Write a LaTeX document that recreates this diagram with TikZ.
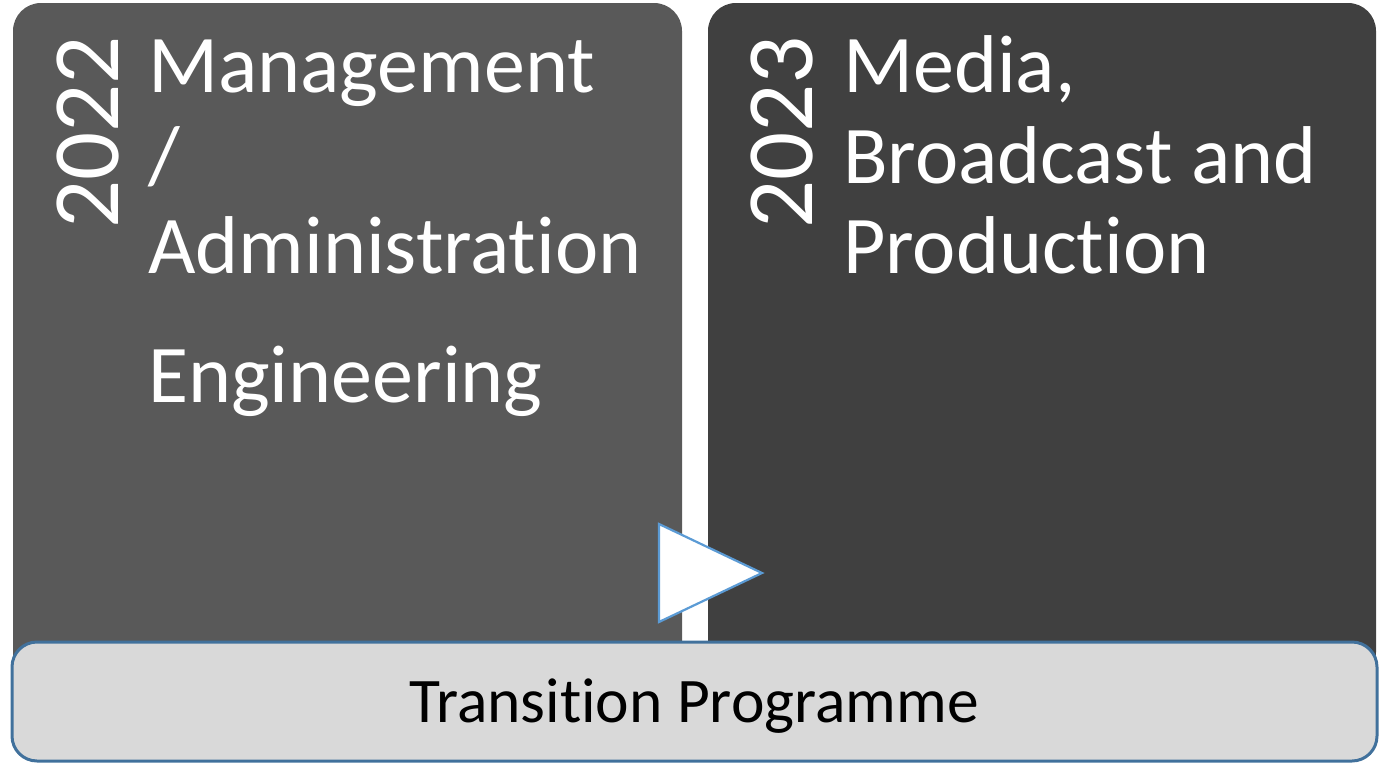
\documentclass[tikz,border=0pt]{standalone}
\usepackage{fontspec}
\setmainfont{Carlito}[Ligatures=NoCommon,RawFeature=-liga]
\definecolor{leftgray}{HTML}{595959}
\definecolor{rightgray}{HTML}{404040}
\definecolor{barfill}{HTML}{D9D9D9}
\definecolor{barline}{HTML}{41719C}
\definecolor{triline}{HTML}{5B9BD5}
\tikzset{
  panel/.style={rounded corners=28pt, inner sep=0pt, draw=none},
  bigtext/.style={text=white, inner sep=0pt, anchor=base west, font=\fontsize{82}{90}\selectfont},
  yeartext/.style={text=white, inner sep=0pt, anchor=base west, rotate=90, font=\fontsize{95}{100}\selectfont},
  bartext/.style={text=black, inner sep=0pt, anchor=base, font=\fontsize{63.5}{70}\selectfont}
}
\begin{document}
\begin{tikzpicture}[x=1pt,y=-1pt]
\useasboundingbox (0,0) rectangle (1385,763);
% panels
\node[panel, fill=leftgray, minimum width=669pt, minimum height=677pt] (leftbox) at (347.5,341.5) {};
\node[panel, fill=rightgray, minimum width=668pt, minimum height=677pt] (rightbox) at (1042,341.5) {};
% left texts
\node[yeartext] (y22) at (118,229) {2022};
\node[bigtext] (l1) at (148,92) {Management};
\node[bigtext] (l2) at (148,183) {/};
\node[bigtext] (l3) at (148,273) {Administration};
\node[bigtext] (l4) at (148,402) {Engineering};
% right texts
\node[yeartext] (y23) at (812,229) {2023};
\node[bigtext] (r1) at (843,92) {Media,};
\node[bigtext] (r2) at (843,183) {Broadcast and};
\node[bigtext] (r3) at (843,273) {Production};
% arrow triangle
\coordinate (ta) at (659,524);
\coordinate (tb) at (659,622);
\coordinate (tc) at (762,573);
\draw[triline, fill=white, line width=2.2pt, line join=miter] (ta) -- (tc) -- (tb) -- cycle;
% bottom bar
\node[rounded corners=25pt, draw=barline, line width=3pt, fill=barfill, inner sep=0pt, minimum width=1365pt, minimum height=119pt] (bar) at (694.5,701.5) {};
\node[bartext] (bt) at (694,722) {Transition Programme};
\end{tikzpicture}
\end{document}
